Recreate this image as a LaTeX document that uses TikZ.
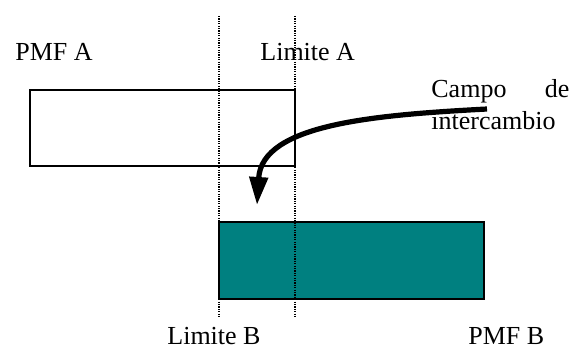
\documentclass[tikz,border=0pt]{standalone}
\usepackage{fontspec}
\setmainfont{Liberation Serif}
\usepackage{tikz}
\usetikzlibrary{arrows.meta, positioning}
\definecolor{pmfteal}{RGB}{0, 128, 128}
\tikzset{
  pmfbox/.style={draw, line width=1pt, inner sep=0pt, minimum width=132.5pt, minimum height=38pt},
  pmfboxB/.style={pmfbox, fill=pmfteal},
  limline/.style={line width=0.8pt, dash pattern=on 0.6pt off 0.6pt},
  lbl/.style={font=\fontsize{13}{16}\selectfont, inner sep=0pt, anchor=base west},
  swaparrow/.style={-{Triangle[length=14pt, width=9pt]}, line width=2.6pt},
}
\begin{document}
\begin{tikzpicture}[x=0.5pt, y=-0.5pt]
  \useasboundingbox (0,0) rectangle (578,347);
  % boxes
  \node[pmfbox] (boxA) at (162.5,128) {};
  \node[pmfboxB] (boxB) at (351.5,260.5) {};
  % limits
  \coordinate (limAtop) at (295,16);
  \coordinate (limAbot) at (295,317);
  \coordinate (limBtop) at (219,16);
  \coordinate (limBbot) at (219,317);
  \draw[limline] (limAtop) -- (limAbot);
  \draw[limline] (limBtop) -- (limBbot);
  % labels
  \node[lbl] (pmfA) at (15,61) {PMF A};
  \node[lbl] (limA) at (260,61) {Limite A};
  \node[lbl, text width=69pt, align=left] (campo) at (431,98) {Campo\hfill de\\intercambio};
  \node[lbl] (limB) at (167,344) {Limite B};
  \node[lbl] (pmfB) at (468,344) {PMF B};
  % arrow
  \coordinate (arrS) at (487,109);
  \coordinate (arrE) at (257,205);
  \draw[swaparrow] (arrS) .. controls (375,115) and (262,124) .. (arrE);
\end{tikzpicture}
\end{document}
